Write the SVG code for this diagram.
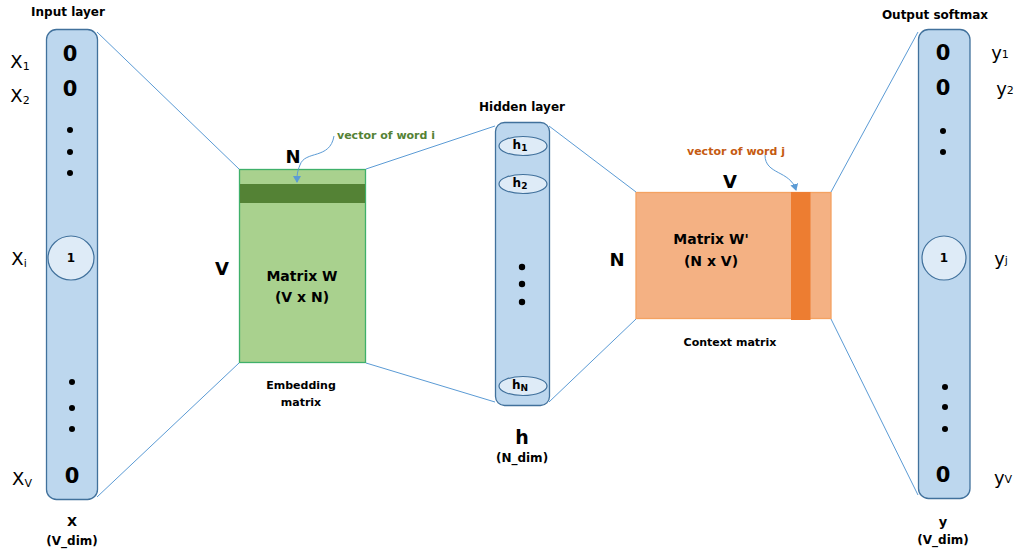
<svg xmlns="http://www.w3.org/2000/svg" width="1016" height="559" viewBox="0 0 1016 559">
<style>
text{font-family:"DejaVu Sans","Liberation Sans",sans-serif;fill:#000;text-anchor:middle;dominant-baseline:central}
.col{fill:#bdd7ee;stroke:#41719c;stroke-width:1.3}
.cell{fill:#deebf7;stroke:#41719c;stroke-width:1.2}
.lbl{font-size:12px;font-weight:bold}
.big{font-size:21px;font-weight:bold}
.var{font-size:18px}
.sub{font-size:11px}
.conn{stroke:#5b9bd5;stroke-width:1;fill:none}
.dot{fill:#000}
</style>
<defs>
<marker id="ah" markerWidth="8" markerHeight="8" refX="6" refY="4" orient="auto" markerUnits="userSpaceOnUse">
<path d="M0,0 L7,4 L0,8 z" fill="#5b9bd5"/>
</marker>
</defs>
<g id="input-layer">
<text class="lbl" x="68" y="12">Input layer</text>
<rect class="col" x="46.5" y="29.5" width="51" height="470" rx="10"/>
<text class="big" x="70" y="54">0</text>
<text class="big" x="70" y="89">0</text>
<circle class="dot" cx="70" cy="130" r="3"/>
<circle class="dot" cx="70" cy="152" r="3"/>
<circle class="dot" cx="70" cy="173" r="3"/>
<ellipse class="cell" cx="71" cy="258" rx="23" ry="22"/>
<text class="lbl" x="71" y="258">1</text>
<circle class="dot" cx="72" cy="382" r="3"/>
<circle class="dot" cx="72" cy="408" r="3"/>
<circle class="dot" cx="72" cy="429" r="3"/>
<text class="big" x="72" y="476">0</text>
<text class="var" x="20" y="61">X<tspan class="sub" dy="5">1</tspan></text>
<text class="var" x="20" y="95">X<tspan class="sub" dy="5">2</tspan></text>
<text class="var" x="19" y="258">X<tspan class="sub" dy="5">i</tspan></text>
<text class="var" x="22" y="478">X<tspan class="sub" dy="5">V</tspan></text>
<text class="lbl" x="72" y="521" style="font-size:13px">X</text>
<text class="lbl" x="72" y="541">(V_dim)</text>
</g>
<g id="matrix-w">
<rect x="239.5" y="169.5" width="126" height="193" fill="#a9d18e" stroke="#3fb06a" stroke-width="1.3"/>
<rect x="240" y="184" width="125" height="19" fill="#548235"/>
<text class="var" x="293" y="156" style="font-weight:bold">N</text>
<text class="var" x="222" y="268" style="font-weight:bold">V</text>
<text class="lbl" x="302" y="276" style="font-size:14px">Matrix W</text>
<text class="lbl" x="302" y="297" style="font-size:14px">(V x N)</text>
<text class="lbl" x="301" y="385" style="font-size:11px">Embedding</text>
<text class="lbl" x="301" y="402" style="font-size:11px">matrix</text>
<text class="lbl" x="386" y="135" style="font-size:11px;fill:#548235">vector of word i</text>
</g>
<g id="hidden-layer">
<text class="lbl" x="522" y="107">Hidden layer</text>
<rect class="col" x="495.5" y="122.5" width="54" height="283" rx="9"/>
<ellipse class="cell" cx="523" cy="146" rx="24" ry="9.5"/>
<text class="lbl" x="520" y="145">h<tspan style="font-size:9px" dy="3">1</tspan></text>
<ellipse class="cell" cx="523" cy="184" rx="24" ry="9.5"/>
<text class="lbl" x="520" y="183">h<tspan style="font-size:9px" dy="3">2</tspan></text>
<circle class="dot" cx="522" cy="267" r="3.2"/>
<circle class="dot" cx="522" cy="284" r="3.2"/>
<circle class="dot" cx="522" cy="302" r="3.2"/>
<ellipse class="cell" cx="523" cy="386" rx="24" ry="9.5"/>
<text class="lbl" x="520" y="385">h<tspan style="font-size:9px" dy="3">N</tspan></text>
<text x="522" y="437" style="font-size:19px;font-weight:bold">h</text>
<text class="lbl" x="522" y="458">(N_dim)</text>
</g>
<g id="matrix-w-prime">
<rect x="636" y="192.5" width="195" height="126" fill="#f4b183" stroke="#f4a261" stroke-width="1.3"/>
<rect x="791" y="192" width="19.5" height="128" fill="#ed7d31"/>
<text class="var" x="730" y="181" style="font-weight:bold">V</text>
<text class="var" x="617" y="259" style="font-weight:bold">N</text>
<text class="lbl" x="711" y="239" style="font-size:14px">Matrix W'</text>
<text class="lbl" x="711" y="261" style="font-size:14px">(N x V)</text>
<text class="lbl" x="730" y="342" style="font-size:11px">Context matrix</text>
<text class="lbl" x="736" y="151" style="font-size:11px;fill:#c55a11">vector of word j</text>
</g>
<g id="output-layer">
<text class="lbl" x="935" y="15">Output softmax</text>
<rect class="col" x="918.5" y="29.5" width="51.5" height="469" rx="10"/>
<text class="big" x="943" y="53">0</text>
<text class="big" x="943" y="88">0</text>
<circle class="dot" cx="943" cy="131" r="3"/>
<circle class="dot" cx="943" cy="152" r="3"/>
<ellipse class="cell" cx="944" cy="258" rx="22" ry="22"/>
<text class="lbl" x="944" y="258">1</text>
<circle class="dot" cx="945" cy="387" r="3"/>
<circle class="dot" cx="945" cy="407" r="3"/>
<circle class="dot" cx="945" cy="429" r="3"/>
<text class="big" x="943" y="475">0</text>
<text class="var" x="1000" y="52">y<tspan class="sub" dy="2">1</tspan></text>
<text class="var" x="1005" y="88">y<tspan class="sub" dy="2">2</tspan></text>
<text class="var" x="1001" y="258">y<tspan class="sub" dy="2">j</tspan></text>
<text class="var" x="1003" y="477">y<tspan class="sub" dy="2">V</tspan></text>
<text class="lbl" x="943" y="521" style="font-size:13px">y</text>
<text class="lbl" x="943" y="540">(V_dim)</text>
</g>
<g id="connectors">
<line class="conn" x1="97" y1="32" x2="239" y2="169"/>
<line class="conn" x1="97" y1="497" x2="239" y2="363"/>
<line class="conn" x1="366" y1="169" x2="495" y2="126"/>
<line class="conn" x1="366" y1="363" x2="495" y2="402"/>
<line class="conn" x1="549" y1="126" x2="636" y2="192"/>
<line class="conn" x1="549" y1="402" x2="636" y2="319"/>
<line class="conn" x1="831" y1="192" x2="918" y2="32"/>
<line class="conn" x1="831" y1="319" x2="918" y2="495"/>
<path class="conn" d="M334,136 C330,160 305,150 300,165 C297,172 297,176 297,182" marker-end="url(#ah)"/>
<path class="conn" d="M765,155 C765,175 790,170 796,190" marker-end="url(#ah)"/>
</g>
</svg>
